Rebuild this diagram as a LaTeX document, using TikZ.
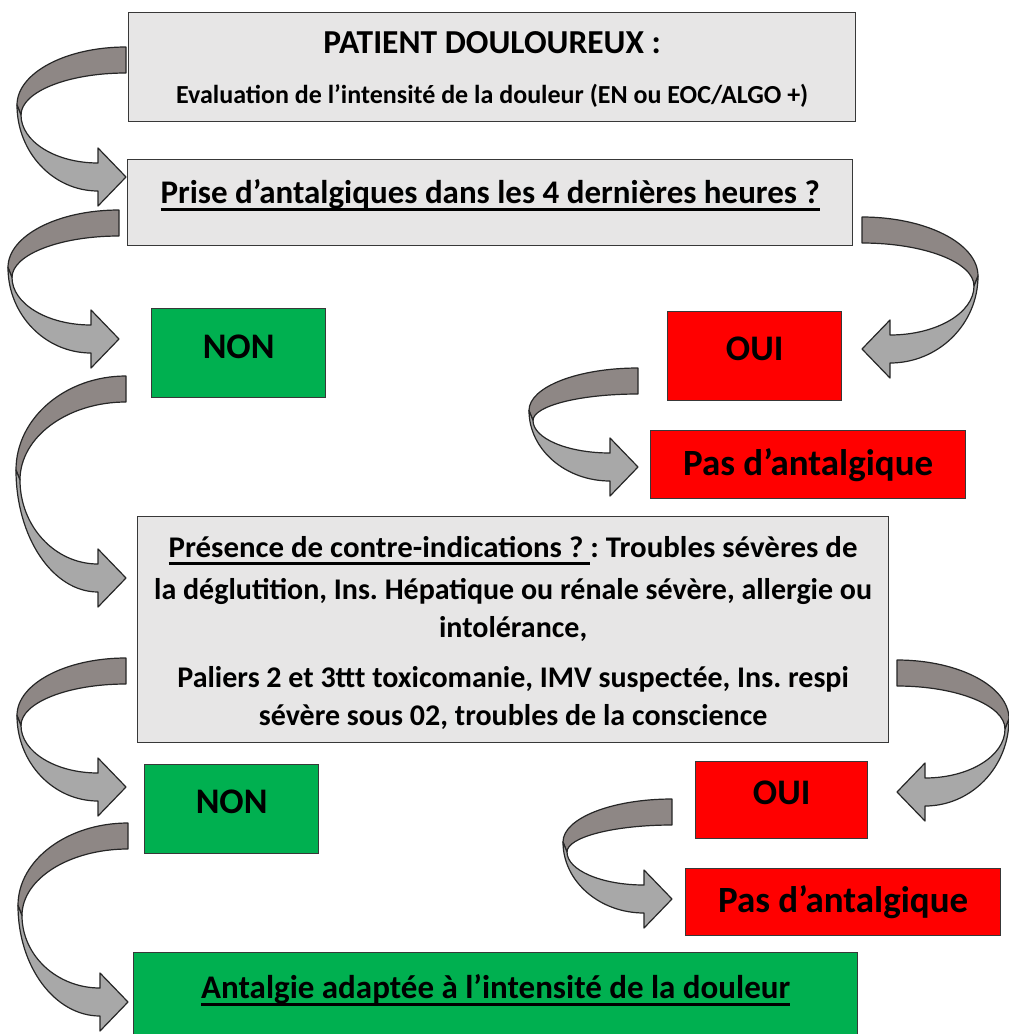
\documentclass[tikz,border=0pt]{standalone}
\usepackage{fontspec}
\setmainfont{Carlito}
\usetikzlibrary{calc}

\definecolor{boxgray}{RGB}{231,230,230}
\definecolor{okgreen}{RGB}{0,176,80}
\definecolor{nored}{RGB}{255,0,0}
\definecolor{backgray}{RGB}{142,135,133}
\definecolor{frontgray}{RGB}{168,168,168}

% thick underline at a fixed depth
\newcommand\ulbold[1]{\setbox0\hbox{#1}\dp0=0pt\vtop{\copy0\kern5pt\hrule height 2.5pt}}

\tikzset{
  box/.style={draw=black!78,line width=1.3pt,anchor=north west,inner sep=0pt},
  graybox/.style={box,fill=boxgray},
  greenbox/.style={box,fill=okgreen},
  redbox/.style={box,fill=nored},
  txt/.style={anchor=base,inner sep=0pt},
  arrowback/.style={fill=backgray,draw=black!85,line width=1.2pt,line join=round},
  arrowfront/.style={fill=frontgray,draw=black!85,line width=1.2pt,line join=round}
}

% tail x, tail y, depth, drop, side (1 = left, -1 = right)
\newcommand\bandarrow[5]{%
  \begin{scope}[shift={(#1,#2)},xscale=#5]
    \pgfmathsetmacro\arrW{#3}
    \pgfmathsetmacro\arrH{#4}
    \pgfmathsetmacro\arrM{\arrH/2-2}
    \path[arrowback] (0,0) .. controls ({-0.552*\arrW},0) and ({-\arrW},{0.448*(\arrM-5)}) .. ({-\arrW},{\arrM-5})
      -- ({-\arrW+4},{\arrM+5}) .. controls ({-\arrW+4},{\arrM+5-0.552*(\arrM-21)}) and ({-0.552*(\arrW-4)},26) .. (0,26) -- cycle;
    \path[arrowfront] ({-\arrW},{\arrM-5}) .. controls ({-\arrW},{\arrM-5+0.552*(\arrH-\arrM+19)}) and ({-28-0.552*(\arrW-28)},{\arrH+14}) .. (-28,{\arrH+14})
      -- (-28,{\arrH+29}) -- (0,\arrH) -- (-28,{\arrH-29}) -- (-28,{\arrH-14})
      .. controls ({-28-0.552*(\arrW-32)},{\arrH-14}) and ({-\arrW+4},{\arrM+5+0.552*(\arrH-\arrM-19)}) .. ({-\arrW+4},{\arrM+5}) -- cycle;
  \end{scope}}

\begin{document}
\frenchspacing
\begin{tikzpicture}[x=1pt,y=-1pt]
\clip (0,0) rectangle (1009,1034);

% boxes
\node[graybox,minimum width=727pt,minimum height=109pt] (patient) at (128,12) {};
\node[graybox,minimum width=725pt,minimum height=86pt] (prise) at (127,159) {};
\node[greenbox,minimum width=174pt,minimum height=89pt] (non1) at (151,308) {};
\node[redbox,minimum width=174pt,minimum height=89pt] (oui1) at (667,311) {};
\node[redbox,minimum width=315pt,minimum height=68pt] (pas1) at (650,430) {};
\node[graybox,minimum width=751pt,minimum height=226pt] (contre) at (137,516) {};
\node[greenbox,minimum width=174pt,minimum height=89pt] (non2) at (144,764) {};
\node[redbox,minimum width=172pt,minimum height=77pt] (oui2) at (695,761) {};
\node[redbox,minimum width=315pt,minimum height=67pt] (pas2) at (685,868) {};
\node[greenbox,minimum width=724pt,minimum height=95pt] (final) at (133,952) {};

% texts
\node[txt,font=\bfseries\fontsize{33.5}{38}\selectfont] (patientT) at ($(patient.north)+(0,41)$) {PATIENT DOULOUREUX :};
\node[txt,font=\bfseries\fontsize{26}{30}\selectfont] (patientE) at ($(patient.north)+(0,91)$) {Evaluation de l’intensité de la douleur (EN ou EOC/ALGO +)};
\node[txt,font=\bfseries\fontsize{33}{38}\selectfont] (priseT) at ($(prise.north)+(0,44)$) {\ulbold{Prise d’antalgiques dans les 4 dernières heures ?}};
\node[txt,font=\bfseries\fontsize{36}{40}\selectfont] (non1T) at ($(non1.north)+(0,50)$) {NON};
\node[txt,font=\bfseries\fontsize{36}{40}\selectfont] (oui1T) at ($(oui1.north)+(0,49)$) {OUI};
\node[txt,font=\bfseries\fontsize{37}{42}\selectfont] (pas1T) at ($(pas1.north)+(0,45)$) {Pas d’antalgique};
\node[txt,font=\bfseries\fontsize{30}{36}\selectfont,xscale=1.03] (contreA) at ($(contre.north)+(0,41)$) {\ulbold{Présence de contre-indications ? }: Troubles sévères de};
\node[txt,font=\bfseries\fontsize{30}{36}\selectfont] (contreB) at ($(contre.north)+(0,83)$) {la déglutition, Ins. Hépatique ou rénale sévère, allergie ou};
\node[txt,font=\bfseries\fontsize{30}{36}\selectfont] (contreC) at ($(contre.north)+(0,121)$) {intolérance,};
\node[txt,font=\bfseries\fontsize{30}{36}\selectfont] (contreD) at ($(contre.north)+(0,171)$) {Paliers 2 et 3ttt toxicomanie, IMV suspectée, Ins. respi};
\node[txt,font=\bfseries\fontsize{30}{36}\selectfont] (contreE) at ($(contre.north)+(0,209)$) {sévère sous 02, troubles de la conscience};
\node[txt,font=\bfseries\fontsize{36}{40}\selectfont] (non2T) at ($(non2.north)+(0,49)$) {NON};
\node[txt,font=\bfseries\fontsize{36}{40}\selectfont] (oui2T) at ($(oui2.north)+(0,43)$) {OUI};
\node[txt,font=\bfseries\fontsize{37}{42}\selectfont] (pas2T) at ($(pas2.north)+(0,44)$) {Pas d’antalgique};
\node[txt,font=\bfseries\fontsize{33}{38}\selectfont] (finalT) at ($(final.north)+(0,46)$) {\ulbold{Antalgie adaptée à l’intensité de la douleur}};

% curved arrows
\bandarrow{126}{47}{109}{130}{1}
\bandarrow{119}{210}{111}{129}{1}
\bandarrow{862}{217}{116}{132}{-1}
\bandarrow{638}{368}{109}{99}{1}
\bandarrow{126}{376}{110}{202}{1}
\bandarrow{126}{658}{109}{129}{1}
\bandarrow{897}{660}{112}{132}{-1}
\bandarrow{672}{799}{109}{100}{1}
\bandarrow{128}{823}{110}{179}{1}
\end{tikzpicture}
\end{document}
